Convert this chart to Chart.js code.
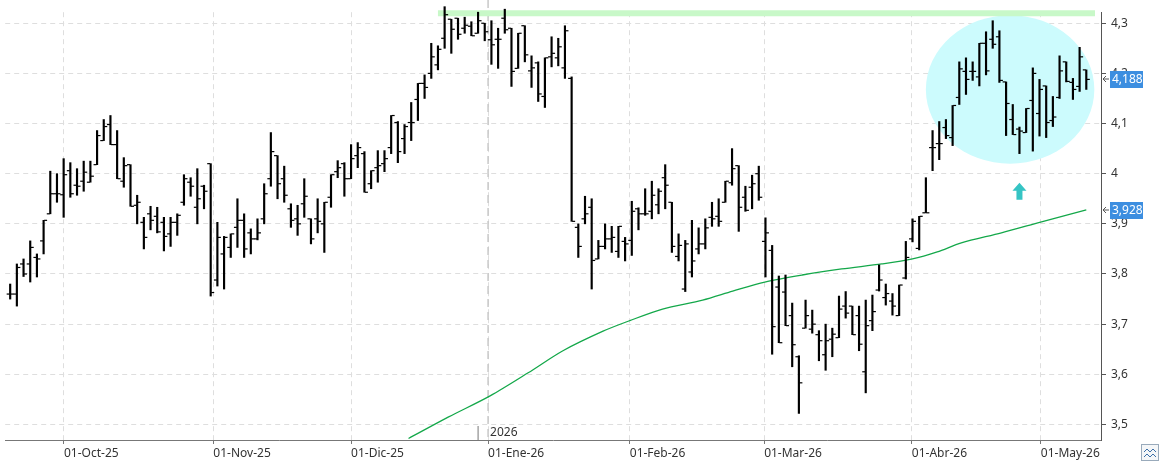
<!DOCTYPE html>
<html>
<head>
<meta charset="utf-8">
<script src="https://cdn.jsdelivr.net/npm/chart.js@4/dist/chart.umd.min.js"></script>
<style>
  html, body { margin: 0; padding: 0; background: #fff; }
</style>
</head>
<body>
<canvas id="myChart" width="1164" height="463"></canvas>
<script>
// OHLC, one entry per session
var open = [3.76,3.76,3.82,3.82,3.833,3.866,3.92,3.96,3.958,4.006,
  3.977,3.985,3.983,4.018,4.066,4.098,4.058,3.985,4.018,3.937,
  3.903,3.92,3.915,3.903,3.88,3.903,3.943,3.983,3.933,3.975,
  4.02,3.788,3.84,3.853,3.893,3.907,3.882,3.87,3.91,3.99,
  4.036,3.99,3.93,3.91,3.94,3.91,3.91,3.90,3.953,4.004,
  4.02,3.99,4.036,4.04,3.98,4.012,4.02,4.052,4.102,4.07,
  4.102,4.148,4.18,4.20,4.217,4.27,4.308,4.31,4.29,4.294,
  4.28,4.30,4.267,4.268,4.31,4.29,4.21,4.295,4.205,4.221,
  4.154,4.233,4.231,4.211,4.19,3.893,3.91,3.933,3.83,3.855,
  3.87,3.845,3.865,3.867,3.93,3.92,3.925,3.938,3.992,3.943,
  3.835,3.77,3.804,3.85,3.86,3.913,3.915,3.943,3.982,4.016,
  3.953,3.973,4.0,3.865,3.847,3.774,3.764,3.717,3.635,3.692,
  3.69,3.679,3.639,3.67,3.673,3.736,3.736,3.717,3.605,3.707,
  3.768,3.753,3.746,3.717,3.792,3.87,3.851,3.922,4.052,4.06,
  4.092,4.072,4.152,4.204,4.204,4.193,4.26,4.268,4.273,4.183,
  4.108,4.089,4.082,4.146,4.12,4.175,4.106,4.152,4.223,4.182,
  4.174,4.207];
var high = [3.78,3.82,3.83,3.866,3.84,3.907,4.005,4.0,4.03,4.022,
  4.01,4.025,4.025,4.086,4.108,4.116,4.086,4.032,4.018,3.957,
  3.913,3.935,3.933,3.913,3.913,3.92,3.998,3.992,4.01,3.977,
  4.02,3.903,3.875,3.88,3.95,3.92,3.89,3.91,3.98,4.082,
  4.036,4.015,3.94,3.937,3.99,3.91,3.95,3.943,3.998,4.026,
  4.022,4.058,4.062,4.044,4.006,4.046,4.046,4.116,4.104,4.098,
  4.142,4.18,4.197,4.26,4.255,4.333,4.308,4.31,4.312,4.303,
  4.322,4.30,4.305,4.29,4.328,4.29,4.28,4.295,4.235,4.223,
  4.231,4.273,4.27,4.295,4.193,3.90,3.955,3.95,3.867,3.90,
  3.895,3.895,3.873,3.945,3.932,3.97,3.985,3.97,4.018,3.943,
  3.88,3.867,3.907,3.892,3.91,3.943,3.95,3.985,4.05,4.016,
  3.975,3.997,4.015,3.912,3.857,3.796,3.798,3.742,3.637,3.748,
  3.728,3.687,3.70,3.692,3.756,3.765,3.736,3.736,3.748,3.758,
  3.818,3.78,3.761,3.778,3.865,3.91,3.915,3.992,4.086,4.104,
  4.108,4.136,4.223,4.231,4.223,4.26,4.283,4.305,4.285,4.183,
  4.138,4.093,4.13,4.211,4.188,4.175,4.154,4.235,4.223,4.19,
  4.252,4.207];
var low = [3.75,3.736,3.795,3.784,3.794,3.84,3.92,3.943,3.913,3.953,
  3.957,3.965,3.983,4.018,4.066,4.058,3.99,3.973,3.935,3.90,
  3.85,3.888,3.882,3.846,3.855,3.877,3.937,3.955,3.90,3.93,
  3.756,3.776,3.77,3.833,3.853,3.833,3.84,3.868,3.90,3.975,
  3.95,3.943,3.893,3.877,3.913,3.86,3.882,3.843,3.933,3.992,
  3.955,3.99,4.012,3.963,3.97,3.983,4.004,4.04,4.022,4.04,
  4.066,4.106,4.15,4.19,4.207,4.25,4.24,4.268,4.28,4.275,
  4.28,4.265,4.218,4.21,4.28,4.174,4.21,4.223,4.172,4.144,
  4.132,4.213,4.215,4.19,3.905,3.833,3.90,3.77,3.83,3.85,
  3.843,3.833,3.826,3.837,3.888,3.917,3.91,3.92,3.93,3.843,
  3.826,3.765,3.794,3.84,3.85,3.895,3.895,3.943,3.977,3.885,
  3.925,3.93,3.947,3.794,3.64,3.663,3.697,3.615,3.522,3.692,
  3.682,3.627,3.608,3.635,3.673,3.712,3.679,3.647,3.563,3.687,
  3.766,3.738,3.718,3.717,3.79,3.864,3.848,3.922,4.006,4.028,
  4.07,4.056,4.138,4.158,4.186,4.175,4.197,4.25,4.182,4.076,
  4.078,4.04,4.082,4.045,4.075,4.072,4.094,4.15,4.183,4.148,
  4.164,4.168];
var close = [3.76,3.813,3.80,3.853,3.83,3.907,3.96,3.96,3.998,3.96,
  3.975,4.003,3.995,4.076,4.094,4.058,3.99,4.016,3.935,3.943,
  3.873,3.907,3.884,3.875,3.903,3.917,3.99,3.975,3.95,3.965,
  3.763,3.873,3.873,3.88,3.907,3.85,3.87,3.882,3.96,4.044,
  3.98,3.957,3.907,3.90,3.955,3.87,3.905,3.943,3.998,4.012,
  3.99,4.03,4.052,3.963,4.006,4.016,4.03,4.116,4.044,4.094,
  4.102,4.18,4.172,4.233,4.248,4.317,4.288,4.278,4.296,4.275,
  4.305,4.283,4.257,4.268,4.287,4.204,4.28,4.237,4.211,4.159,
  4.231,4.24,4.253,4.285,3.905,3.855,3.92,3.827,3.855,3.87,
  3.873,3.895,3.86,3.925,3.92,3.92,3.957,3.965,3.977,3.855,
  3.857,3.86,3.826,3.86,3.892,3.91,3.905,3.985,4.01,3.933,
  3.927,3.98,3.953,3.882,3.695,3.663,3.697,3.659,3.583,3.717,
  3.70,3.667,3.667,3.68,3.73,3.722,3.679,3.66,3.697,3.725,
  3.788,3.761,3.736,3.778,3.833,3.905,3.915,3.922,4.052,4.06,
  4.076,4.136,4.209,4.188,4.204,4.26,4.205,4.258,4.186,4.14,
  4.078,4.085,4.13,4.2,4.168,4.102,4.113,4.205,4.184,4.168,
  4.233,4.188];

// moving average (session index, value)
var maIdx = [59.6,65.6,71.8,77.5,82.7,88.7,92.7,97.6,103.6,108.1,112.9,118.5,124.4,130.4,135,138.7,142.3,148.3,154.3,161];
var maVal = [3.472,3.515,3.557,3.603,3.647,3.686,3.707,3.730,3.748,3.766,3.784,3.798,3.810,3.820,3.830,3.844,3.862,3.882,3.904,3.928];

// x axis month starts (session index) and labels
var monthPos = [8.05,30.4,51,71.5,92.7,112.8,134.9,154.2];
var monthLabels = ["01-Oct-25","01-Nov-25","01-Dic-25","01-Ene-26","01-Feb-26","01-Mar-26","01-Abr-26","01-May-26"];
var yTicks = [3.5,3.6,3.7,3.8,3.9,4.0,4.1,4.2,4.3];

// resistance band and marked zone
var bandIdx = [64.0, 162.3];
var bandVal = 4.32;
var zone = { x0: 137.0, x1: 162.2, y0: 4.316, y1: 4.02 };
var arrowAt = { x: 151, y0: 3.948, y1: 3.982 };
var yearIdx = 71.5;
var lastPrice = 4.188;
var lastMa = 3.928;

var fmt = function (v) { return String(Math.round(v * 1000) / 1000).replace(".", ","); };

var rangeData = high.map(function (h, i) { return { x: i, y: [low[i], h] }; });
var openData = open.map(function (o, i) { return { x: i - 0.3, y: o }; });
var closeData = close.map(function (c, i) { return { x: i + 0.3, y: c }; });
var maData = maIdx.map(function (x, i) { return { x: x, y: maVal[i] }; });

var decor = {
    id: "decor",
    beforeDatasetsDraw: function (chart) {
        var c = chart.ctx, xs = chart.scales.x, ys = chart.scales.y, a = chart.chartArea;
        var yx = xs.getPixelForValue(yearIdx);
        c.save();
        c.strokeStyle = "#c8c8c8";
        c.lineWidth = 1.5;
        c.setLineDash([8, 5]);
        c.beginPath(); c.moveTo(yx, 0); c.lineTo(yx, a.bottom); c.stroke();
        c.setLineDash([]);
        c.fillStyle = "#333";
        c.font = "12px 'Noto Sans', sans-serif";
        c.textBaseline = "bottom";
        c.fillText("2026", yx + 2, a.bottom - 1);
        c.strokeStyle = "#777"; c.lineWidth = 1;
        c.beginPath(); c.moveTo(yx - 10, a.bottom - 14); c.lineTo(yx - 10, a.bottom); c.stroke();
        var x0 = xs.getPixelForValue(zone.x0), x1 = xs.getPixelForValue(zone.x1);
        var y0 = ys.getPixelForValue(zone.y0), y1 = ys.getPixelForValue(zone.y1);
        c.fillStyle = "#ccfbfd";
        c.beginPath();
        c.ellipse((x0 + x1) / 2, (y0 + y1) / 2, (x1 - x0) / 2, (y1 - y0) / 2, 0, 0, Math.PI * 2);
        c.fill();
        c.restore();
    },
    afterDatasetsDraw: function (chart) {
        var c = chart.ctx, xs = chart.scales.x, ys = chart.scales.y;
        var ax = xs.getPixelForValue(arrowAt.x);
        var ab = ys.getPixelForValue(arrowAt.y0), at = ys.getPixelForValue(arrowAt.y1);
        c.save();
        c.fillStyle = "#35c4c4";
        c.beginPath();
        c.moveTo(ax, at); c.lineTo(ax + 7, at + 8); c.lineTo(ax + 3, at + 8);
        c.lineTo(ax + 3, ab); c.lineTo(ax - 3, ab); c.lineTo(ax - 3, at + 8);
        c.lineTo(ax - 7, at + 8); c.closePath(); c.fill();
        c.restore();
    },
    afterDraw: function (chart) {
        var c = chart.ctx, ys = chart.scales.y, a = chart.chartArea;
        c.save();
        c.font = "12px 'Noto Sans', sans-serif";
        c.textBaseline = "middle";
        [lastPrice, lastMa].forEach(function (v) {
            var py = Math.round(ys.getPixelForValue(v));
            c.fillStyle = "#3c8ee0";
            c.fillRect(a.right + 9, py - 8, 33, 17);
            c.fillStyle = "#fff";
            c.fillText(fmt(v), a.right + 11, py + 1);
            c.strokeStyle = "#555"; c.lineWidth = 1;
            c.beginPath();
            c.moveTo(a.right + 8, py); c.lineTo(a.right + 2, py);
            c.moveTo(a.right + 5, py - 3); c.lineTo(a.right + 2, py); c.lineTo(a.right + 5, py + 3);
            c.stroke();
        });
        c.strokeStyle = "#9ab"; c.fillStyle = "#f4f6f8";
        c.fillRect(1141.5, 444.5, 17, 16); c.strokeRect(1141.5, 444.5, 17, 16);
        c.strokeStyle = "#3c6fa8";
        c.beginPath();
        c.moveTo(1144, 452); c.lineTo(1147, 449); c.lineTo(1150, 452); c.lineTo(1153, 449); c.lineTo(1156, 452);
        c.moveTo(1144, 457); c.lineTo(1147, 454); c.lineTo(1150, 457); c.lineTo(1153, 454); c.lineTo(1156, 457);
        c.stroke();
        c.restore();
    }
};

var ctx = document.getElementById("myChart").getContext("2d");

var myChart = new Chart(ctx, {
    type: "bar",
    data: {
        datasets: [
            {
                type: "line",
                data: [{ x: bandIdx[0], y: bandVal }, { x: bandIdx[1], y: bandVal }],
                borderColor: "#c8f8c8",
                borderWidth: 6,
                pointRadius: 0,
                clip: false,
                order: 10,
            },
            {
                data: rangeData,
                backgroundColor: "#000",
                barThickness: 1.5,
                clip: false,
                order: 2,
            },
            {
                type: "line",
                data: openData,
                showLine: false,
                pointStyle: "line",
                pointRadius: 1.5,
                borderColor: "#000",
                borderWidth: 1.2,
                clip: false,
                order: 1,
            },
            {
                type: "line",
                data: closeData,
                showLine: false,
                pointStyle: "line",
                pointRadius: 1.5,
                borderColor: "#000",
                borderWidth: 1.2,
                clip: false,
                order: 1,
            },
            {
                type: "line",
                data: maData,
                borderColor: "#14a84a",
                borderWidth: 1.3,
                pointRadius: 0,
                tension: 0.3,
                order: 3,
            },
        ],
    },
    options: {
        responsive: false,
        animation: false,
        devicePixelRatio: 1,
        layout: { padding: 0 },
        plugins: { legend: { display: false }, tooltip: { enabled: false } },
        scales: {
            x: {
                type: "linear",
                offset: false,
                min: -0.745,
                max: 163.2,
                afterBuildTicks: function (axis) {
                    axis.ticks = monthPos.map(function (v) { return { value: v }; });
                },
                afterFit: function (axis) { axis.height = 23; },
                ticks: {
                    autoSkip: false,
                    maxRotation: 0,
                    align: "start",
                    padding: 2,
                    color: "#333",
                    font: { family: "'Noto Sans', sans-serif", size: 12 },
                    callback: function (v, i) { return monthLabels[i]; },
                },
                grid: {
                    offset: false,
                    color: "#dedede",
                    tickColor: "#777",
                    tickLength: 4,
                },
                border: { color: "#777", dash: [5, 4] },
            },
            y: {
                position: "right",
                min: 3.469,
                max: 4.322,
                afterBuildTicks: function (axis) {
                    axis.ticks = yTicks.map(function (v) { return { value: v }; });
                },
                afterFit: function (axis) { axis.width = 63; },
                ticks: {
                    autoSkip: false,
                    padding: 5,
                    color: "#333",
                    font: { family: "'Noto Sans', sans-serif", size: 12 },
                    callback: function (v) { return fmt(v); },
                },
                grid: {
                    color: "#dedede",
                    tickColor: "#555",
                    tickLength: 5,
                },
                border: { color: "#555", dash: [5, 4] },
            },
        },
    },
    plugins: [decor],
});
</script>
</body>
</html>
